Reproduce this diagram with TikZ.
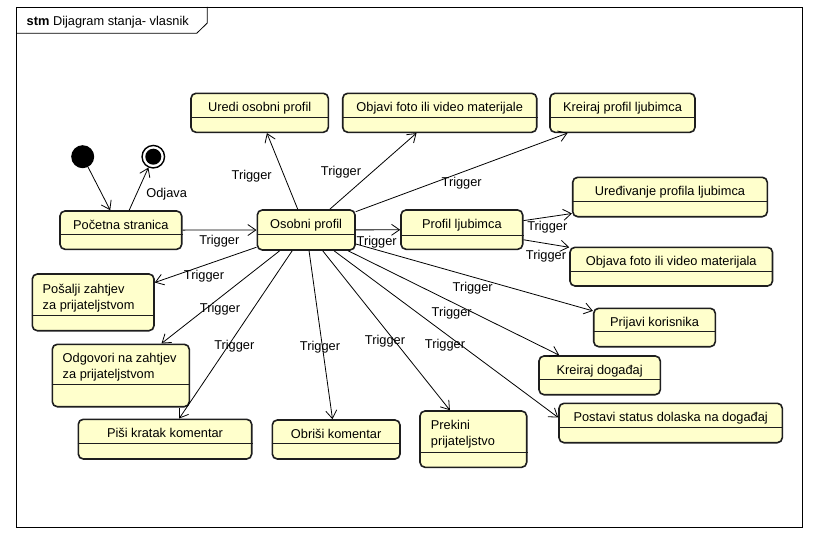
\documentclass[tikz,border=0pt]{standalone}
\usepackage{fontspec}
\setmainfont{Liberation Sans}
\usetikzlibrary{calc,arrows.meta}
\definecolor{stfill}{RGB}{255,255,204}
\definecolor{stline}{RGB}{30,30,30}
\tikzset{
  stbox/.style={draw=stline, line width=1.6pt, rounded corners=5pt, fill=stfill, inner sep=0pt, rectangle},
  divline/.style={draw=stline, line width=0.9pt},
  lbl/.style={font=\fontsize{12.8}{16}\selectfont, inner sep=0pt},
  trans/.style={-{Straight Barb[length=8pt,width=11pt]}, line width=0.8pt, draw=black},
}
\newcommand{\mkstate}[6]{%
  \node[stbox, minimum width={#4-#2}, minimum height={#5-#3}] (#1) at ({(#2+#4)/2},{(#3+#5)/2}) {};
  \draw[divline] ($(#1.north west)+(0,#6)$) -- ($(#1.north east)+(0,#6)$);
}
\begin{document}
\begin{tikzpicture}[x=1pt,y=-1pt]
\useasboundingbox[fill=white] (0,0) rectangle (819,543);
% frame
\draw[line width=0.8pt] (16,7) rectangle (802.5,527.5);
\draw[line width=0.8pt] (16,33.3) -- (196.7,33.3) -- (207.3,23) -- (207.3,7);
\node[lbl, anchor=base west] (title) at (26.5,26) {\textbf{stm} Dijagram stanja- vlasnik};

% pseudo states
\node[circle, fill=black, minimum size=23pt, inner sep=0pt] (init) at (82.7,156.7) {};
\node[circle, draw=black, line width=1.4pt, fill=white, minimum size=22.5pt, inner sep=0pt,
      path picture={\fill[black] (path picture bounding box.center) circle (8pt);}] (final) at (153.3,156.7) {};

% states
\mkstate{pocetna}{60}{211}{181.7}{249.3}{24.7}
\node[lbl, anchor=base] (pocetna-t) at ($(pocetna.north)+(0,19.3)$) {Početna stranica};
\mkstate{osobni}{257.3}{210}{355}{250}{25}
\node[lbl, anchor=base] (osobni-t) at ($(osobni.north)+(0,19.3)$) {Osobni profil};
\mkstate{uredi}{191}{93.3}{328.3}{132.3}{25}
\node[lbl, anchor=base] (uredi-t) at ($(uredi.north)+(0,19.3)$) {Uredi osobni profil};
\mkstate{objavi}{342.7}{93.3}{536.7}{132.3}{25}
\node[lbl, anchor=base] (objavi-t) at ($(objavi.north)+(0,19.3)$) {Objavi foto ili video materijale};
\mkstate{kreirajp}{550}{93.3}{695}{132.3}{25}
\node[lbl, anchor=base] (kreirajp-t) at ($(kreirajp.north)+(0,19.3)$) {Kreiraj profil ljubimca};
\mkstate{uredj}{572.7}{177.3}{767.3}{216.7}{25}
\node[lbl, anchor=base] (uredj-t) at ($(uredj.north)+(0,19.3)$) {Uređivanje profila ljubimca};
\mkstate{profil}{401}{210}{522.7}{249.3}{26}
\node[lbl, anchor=base] (profil-t) at ($(profil.north)+(0,19.3)$) {Profil ljubimca};
\mkstate{objava}{570}{247.3}{772.5}{286}{25}
\node[lbl, anchor=base] (objava-t) at ($(objava.north)+(0,19.3)$) {Objava foto ili video materijala};
\mkstate{prijavi}{593.7}{308.3}{715.3}{346.7}{24}
\node[lbl, anchor=base] (prijavi-t) at ($(prijavi.north)+(0,19.3)$) {Prijavi korisnika};
\mkstate{kreirajd}{539}{356}{660.3}{394.7}{24}
\node[lbl, anchor=base] (kreirajd-t) at ($(kreirajd.north)+(0,19.3)$) {Kreiraj događaj};
\mkstate{postavi}{559}{403.3}{782.3}{442.7}{25}
\node[lbl, anchor=base] (postavi-t) at ($(postavi.north)+(0,19.3)$) {Postavi status dolaska na događaj};
\mkstate{prekini}{420}{411}{526.7}{467.3}{42.3}
\node[lbl, anchor=base west, align=left] (prekini-t) at ($(prekini.north west)+(11.5,35.5)$) {Prekini\\prijateljstvo};
\mkstate{obrisi}{272.3}{420}{400}{459}{24.3}
\node[lbl, anchor=base] (obrisi-t) at ($(obrisi.north)+(0,19.3)$) {Obriši komentar};
\mkstate{pisi}{78.3}{419.3}{251.7}{459}{25}
\node[lbl, anchor=base] (pisi-t) at ($(pisi.north)+(0,19.3)$) {Piši kratak komentar};
\mkstate{odgovori}{52.3}{344.3}{189.3}{406.7}{41}
\node[lbl, anchor=base west, align=left] (odgovori-t) at ($(odgovori.north west)+(11,35)$) {Odgovori na zahtjev\\za prijateljstvom};
\mkstate{posalji}{32.3}{274}{154}{330.7}{42.7}
\node[lbl, anchor=base west, align=left] (posalji-t) at ($(posalji.north west)+(11,36)$) {Pošalji zahtjev\\za prijateljstvom};

% transitions
\draw[trans] (init) -- ($(pocetna.north west)+(51,0)$);
\draw[trans] ($(pocetna.north west)+(70,0)$) -- (final);
\draw[trans] (pocetna) -- (osobni);
\draw[trans] (osobni) -- ($(uredi.south west)+(76.7,0)$);
\draw[trans] (osobni) -- ($(objavi.south west)+(74.6,0)$);
\draw[trans] (osobni) -- ($(kreirajp.south west)+(18.3,0)$);
\draw[trans] (osobni) -- (profil);
\draw[trans] (profil) -- ($(uredj.south west)+(0,-4)$);
\draw[trans] (profil) -- ($(objava.north west)+(0,0.8)$);
\draw[trans] (osobni) -- ($(prijavi.north west)+(0,3.4)$);
\draw[trans] (osobni) -- ($(kreirajd.north west)+(21,0)$);
\draw[trans] (osobni) -- ($(postavi.north west)+(0,15)$);
\draw[trans] (osobni) -- ($(prekini.north west)+(30.7,0)$);
\draw[trans] (osobni) -- ($(obrisi.north west)+(61,0)$);
\draw[trans] (osobni) -- ($(pisi.north west)+(101.7,0)$);
\draw[trans] (osobni) -- ($(odgovori.north west)+(110,0)$);
\draw[trans] (osobni) -- ($(posalji.north east)+(0,9.3)$);

% transition labels
\node[lbl] (l-odjava) at (166.7,194.3) {Odjava};
\node[lbl] (l-osobni) at (219.3,241) {Trigger};
\node[lbl] (l-uredi) at (251.7,175.7) {Trigger};
\node[lbl] (l-objavi) at (341,172.3) {Trigger};
\node[lbl] (l-kreirajp) at (461.7,183.3) {Trigger};
\node[lbl] (l-profil) at (376.7,242.3) {Trigger};
\node[lbl] (l-uredj) at (547.3,226.7) {Trigger};
\node[lbl] (l-objava) at (546,255.7) {Trigger};
\node[lbl] (l-prijavi) at (472.7,288.3) {Trigger};
\node[lbl] (l-kreirajd) at (451.7,313.3) {Trigger};
\node[lbl] (l-postavi) at (445,345) {Trigger};
\node[lbl] (l-prekini) at (385,340.7) {Trigger};
\node[lbl] (l-obrisi) at (320,346.7) {Trigger};
\node[lbl] (l-pisi) at (234.3,345.7) {Trigger};
\node[lbl] (l-odgovori) at (220,308.7) {Trigger};
\node[lbl] (l-posalji) at (204,275.7) {Trigger};
\end{tikzpicture}
\end{document}
